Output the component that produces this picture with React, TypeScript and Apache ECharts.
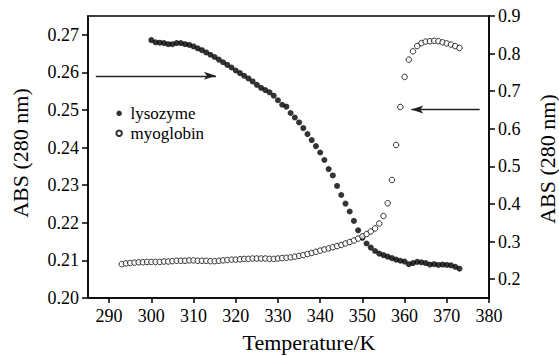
import React, { useEffect, useRef } from "react";
import * as echarts from "echarts";

const lysozymeTemps = [
  300, 301, 302, 303, 304, 305, 306, 307, 308, 309, 310, 311, 312, 313, 314, 315, 316, 317, 318, 319,
  320, 321, 322, 323, 324, 325, 326, 327, 328, 329, 330, 331, 332, 333, 334, 335, 336, 337, 338, 339,
  340, 341, 342, 343, 344, 345, 346, 347, 348, 349, 350, 351, 352, 353, 354, 355, 356, 357, 358, 359,
  360, 361, 362, 363, 364, 365, 366, 367, 368, 369, 370, 371, 372, 373,
];
const lysozymeAbs = [
  0.2686, 0.268, 0.2679, 0.2678, 0.2675, 0.2675, 0.2678, 0.2678, 0.2675, 0.2673, 0.2669, 0.2664, 0.2659,
  0.2653, 0.2647, 0.2641, 0.2634, 0.2627, 0.262, 0.2613, 0.2605, 0.2598, 0.2591, 0.2584, 0.2576, 0.2567,
  0.2559, 0.2553, 0.2547, 0.2538, 0.2526, 0.2514, 0.2509, 0.2492, 0.248, 0.2467, 0.2452, 0.2436, 0.242,
  0.2404, 0.2387, 0.2367, 0.2343, 0.2326, 0.2298, 0.2274, 0.2251, 0.223, 0.2205, 0.218, 0.216, 0.2145,
  0.2134, 0.2125, 0.2118, 0.2114, 0.211, 0.2106, 0.2102, 0.2099, 0.2097, 0.209, 0.2093, 0.2096, 0.2095,
  0.2093, 0.2089, 0.209, 0.2088, 0.2089, 0.2088, 0.2087, 0.2083, 0.2078,
];
const myoglobinTemps = [
  293, 294, 295, 296, 297, 298, 299, 300, 301, 302, 303, 304, 305, 306, 307, 308, 309, 310, 311, 312,
  313, 314, 315, 316, 317, 318, 319, 320, 321, 322, 323, 324, 325, 326, 327, 328, 329, 330, 331, 332,
  333, 334, 335, 336, 337, 338, 339, 340, 341, 342, 343, 344, 345, 346, 347, 348, 349, 350, 351, 352,
  353, 354, 355, 356, 357, 358, 359, 360, 361, 362, 363, 364, 365, 366, 367, 368, 369, 370, 371, 372, 373,
];
const myoglobinAbs = [
  0.24, 0.242, 0.243, 0.244, 0.245, 0.245, 0.246, 0.246, 0.246, 0.246, 0.247, 0.247, 0.248, 0.249, 0.249,
  0.249, 0.25, 0.25, 0.249, 0.249, 0.249, 0.248, 0.248, 0.249, 0.25, 0.251, 0.252, 0.252, 0.253, 0.254,
  0.254, 0.255, 0.255, 0.255, 0.255, 0.254, 0.254, 0.255, 0.256, 0.257, 0.258, 0.26, 0.262, 0.264, 0.267,
  0.27, 0.273, 0.276, 0.279, 0.282, 0.285, 0.288, 0.291, 0.295, 0.299, 0.303, 0.308, 0.314, 0.32, 0.327,
  0.335, 0.348, 0.368, 0.402, 0.464, 0.557, 0.658, 0.738, 0.784, 0.806, 0.82, 0.828, 0.832, 0.833, 0.834,
  0.833, 0.83, 0.827, 0.824, 0.82, 0.815,
];

const xTicks = [290, 300, 310, 320, 330, 340, 350, 360, 370, 380];
const leftTicks = [0.2, 0.21, 0.22, 0.23, 0.24, 0.25, 0.26, 0.27];
const rightTicks = [0.2, 0.3, 0.4, 0.5, 0.6, 0.7, 0.8, 0.9];

// arrow annotations, in data units: [temperature, absorbance]
const lysozymeArrow = [[286.85, 0.2591], [315.3, 0.2591]];
const myoglobinArrow = [[377.8, 0.6513], [361.6, 0.6513]];

const FONT = "'Liberation Serif', 'Times New Roman', serif";

export default function App() {
  const ref = useRef<HTMLDivElement>(null);
  useEffect(() => {
    if (!ref.current) return;
    const chart = echarts.init(ref.current, undefined, { renderer: "svg" });
    const axisLine = { show: true, lineStyle: { color: "#000", width: 1.5 } };
    const tick = (vals: number[], len: number) => ({
      show: true,
      inside: false,
      length: len,
      customValues: vals,
      lineStyle: { color: "#000", width: 1.5 },
    });
    const label = (vals: number[], d: number) => ({
      show: true,
      customValues: vals,
      margin: 9,
      color: "#000",
      fontFamily: FONT,
      fontSize: 18,
      formatter: (v: number) => v.toFixed(d),
    });
    const arrowLine = (pts: number[][]) => ({
      silent: true,
      symbol: ["none", "arrow"],
      symbolSize: [6, 12],
      label: { show: false },
      lineStyle: { color: "#222", width: 1.4, type: "solid" },
      data: [[{ coord: pts[0] }, { coord: pts[1] }]],
    });
    const nameStyle = (text: string) => ({
      text,
      fontFamily: FONT,
      fontSize: 22,
      fill: "#000",
      textAlign: "center",
      textVerticalAlign: "middle",
    });
    chart.setOption({
      animation: false,
      backgroundColor: "#fff",
      grid: {
        left: 88,
        right: 70,
        top: 16,
        bottom: 58,
        show: true,
        borderColor: "#000",
        borderWidth: 1.5,
        backgroundColor: "transparent",
      },
      legend: {
        orient: "vertical",
        left: 110.4,
        top: 98.3,
        itemWidth: 12.6,
        itemHeight: 5.5,
        itemGap: 0,
        selectedMode: false,
        textStyle: { fontFamily: FONT, fontSize: 17, lineHeight: 20, color: "#000" },
        data: ["lysozyme", "myoglobin"],
      },
      xAxis: {
        type: "value",
        min: 285,
        max: 380,
        axisLine,
        axisTick: tick(xTicks, 5),
        axisLabel: label(xTicks, 0),
        splitLine: { show: false },
      },
      yAxis: [
        {
          type: "value",
          position: "left",
          min: 0.2,
          max: 0.275,
          axisLine,
          axisTick: tick(leftTicks, 6),
          axisLabel: label(leftTicks, 2),
          splitLine: { show: false },
        },
        {
          type: "value",
          position: "right",
          min: 0.15,
          max: 0.9,
          axisLine,
          axisTick: tick(rightTicks, 6),
          axisLabel: label(rightTicks, 1),
          splitLine: { show: false },
        },
      ],
      graphic: [
        { type: "text", x: 309, y: 342, style: nameStyle("Temperature/K") },
        { type: "text", x: 20, y: 153, rotation: Math.PI / 2, style: nameStyle("ABS (280 nm)") },
        { type: "text", x: 547, y: 159, rotation: Math.PI / 2, style: nameStyle("ABS (280 nm)") },
      ],
      series: [
        {
          name: "lysozyme",
          type: "scatter",
          yAxisIndex: 0,
          symbol: "circle",
          symbolSize: 6,
          itemStyle: { color: "#000" },
          data: lysozymeTemps.map((t, i) => [t, lysozymeAbs[i]]),
          markLine: arrowLine(lysozymeArrow),
        },
        {
          name: "myoglobin",
          type: "scatter",
          yAxisIndex: 1,
          symbol: "circle",
          symbolSize: 5.5,
          itemStyle: { color: "#fff", borderColor: "#000", borderWidth: 1 },
          data: myoglobinTemps.map((t, i) => [t, myoglobinAbs[i]]),
          markLine: arrowLine(myoglobinArrow),
        },
      ],
    });
    return () => chart.dispose();
  }, []);
  return (
    <div
      ref={ref}
      style={{ position: "fixed", left: 0, top: 0, width: 559, height: 356 }}
    />
  );
}
